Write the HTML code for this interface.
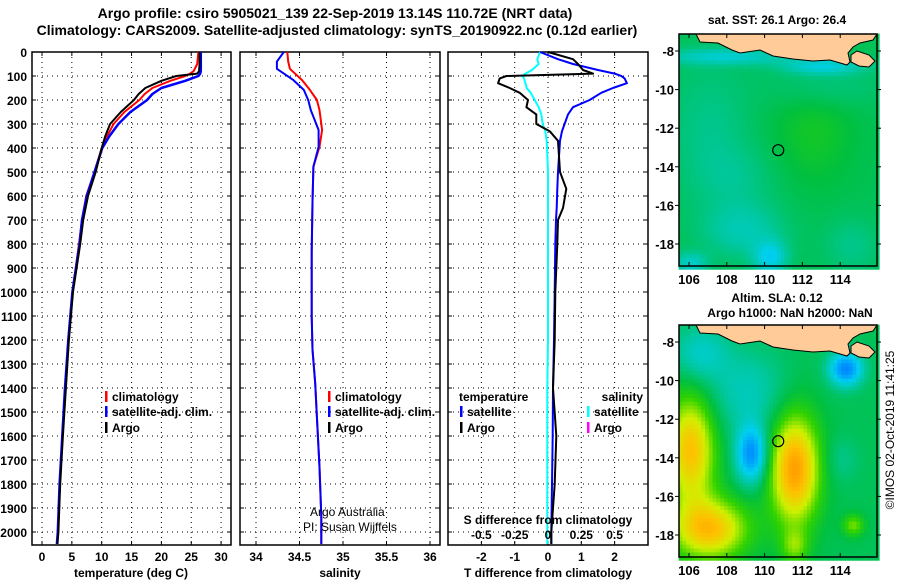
<!DOCTYPE html>
<html><head><meta charset="utf-8"><style>
body{margin:0;background:#fff}
svg{display:block;font-family:"Liberation Sans",sans-serif;font-weight:bold}
</style></head><body>
<svg id="c" width="900" height="580" viewBox="0 0 900 580">
<text x="335" y="18" font-size="14" text-anchor="middle">Argo profile: csiro 5905021_139 22-Sep-2019 13.14S 110.72E (NRT data)</text>
<text x="337" y="35" font-size="14" text-anchor="middle">Climatology: CARS2009. Satellite-adjusted climatology: synTS_20190922.nc (0.12d earlier)</text>
<g id="g"></g>
</svg>
<script>
// ---- data ----
const depthT=[0,50,80,90,100,120,150,175,200,250,300,350,400,500,600,700,800,1000,1200,1400,1600,1800,2000,2050];
const tempClim=[26.2,26.0,25.4,24.8,24.0,21.5,18.5,17.2,16.3,13.8,12.0,10.9,10.0,8.8,7.4,6.7,6.2,5.1,4.4,3.9,3.4,3.0,2.7,2.55];
const tempSat=[26.6,26.6,26.6,26.5,26.2,24.0,20.0,18.5,17.6,14.8,12.8,11.3,10.1,8.8,7.5,6.7,6.3,5.1,4.4,3.85,3.4,2.95,2.65,2.5];
const tempArgo=[26.4,26.4,26.3,26.0,22.5,20.0,17.3,16.2,15.4,13.2,11.4,10.6,10.0,9.0,7.7,6.9,6.4,5.2,4.5,4.0,3.5,3.05,2.75,2.6];
const depthS=[0,40,70,117,158,200,242,325,395,478,625,833,1100,1240,1380,1520,1730,1936,2050];
const salClim=[34.36,34.37,34.39,34.53,34.62,34.7,34.73,34.76,34.73,34.66,34.65,34.64,34.64,34.65,34.68,34.7,34.73,34.75,34.75];
const salSat=[34.32,34.24,34.24,34.43,34.55,34.6,34.63,34.72,34.72,34.66,34.65,34.64,34.64,34.65,34.68,34.7,34.73,34.75,34.75];
const diffDepth=[0,30,50,75,90,100,110,130,150,170,200,230,260,300,330,370,500,570,650,700,800,1000,1200,1400,1600,1800,2000,2050];
const dTsat=[-0.24,0.3,0.75,1.5,2.0,2.2,2.3,2.37,1.95,1.6,1.25,0.75,0.6,0.5,0.42,0.36,0.3,0.28,0.26,0.24,0.22,0.2,0.18,0.15,0.14,0.12,0.1,0.1];
const dTargo=[0,0.75,0.9,1.05,1.35,-1.25,-1.45,-1.5,-1.15,-0.85,-0.6,-0.65,-0.35,-0.35,0.05,0.3,0.36,0.55,0.45,0.3,0.28,0.22,0.2,0.15,0.25,0.2,0.1,0.1];
const dSsat=[-0.06,-0.08,-0.07,-0.12,-0.17,-0.19,-0.18,-0.17,-0.16,-0.13,-0.1,-0.07,-0.05,-0.04,-0.02,-0.01,0,0,0,0,0,0,0,-0.005,-0.005,-0.005,-0.005,-0.005];
const depthTicks=[0,100,200,300,400,500,600,700,800,900,1000,1100,1200,1300,1400,1500,1600,1700,1800,1900,2000];
const tTicks=[0,5,10,15,20,25,30];
const sTicks=[34,34.5,35,35.5,36];
const dtTicks=[-2,-1,0,1,2];
const dsTicks=["-0.5","-0.25","0","0.25","0.5"];
const lonTicks=[106,108,110,112,114];
const latTicks=[-8,-10,-12,-14,-16,-18];
const argoPos=[110.72,-13.14];
const sstBlobs=[[108,-8.2,-0.12,2.5,0.3],[113,-8.7,-0.14,1.5,0.3],[108.8,-17.2,-0.09,1.5,1.0],[110.2,-18.6,-0.16,0.6,0.6],[106,-18.9,-0.12,0.6,0.4],[107,-12,-0.05,1.5,2.5],[108.5,-14.5,-0.04,1.5,1.2],[112.5,-12,0.05,1.5,2],[113,-9.8,-0.05,2,0.8],[114.5,-18,-0.05,1,1]];
const slaBlobs=[[111.5,-14.5,0.36,0.9,2],[106,-13.5,0.3,0.9,2],[107,-17.6,0.3,1.4,1.1],[109.2,-13.7,-0.3,0.55,1],[114.2,-9.3,-0.32,0.6,0.6],[109,-10.5,-0.1,1.5,1.5],[106.5,-8.5,-0.12,1,1],[114.6,-17.4,0.14,0.4,0.4],[111.5,-18.5,0.12,0.5,0.6],[114,-14,-0.05,0.6,0.8]];

const NS='http://www.w3.org/2000/svg';const G=document.getElementById('g');
function el(t,a,p){const e=document.createElementNS(NS,t);for(const k in a)e.setAttribute(k,a[k]);(p||G).appendChild(e);return e;}
function txt(x,y,s,anchor,fill,size){const e=el('text',{x:x,y:y,'font-size':size||12,'text-anchor':anchor||'start',fill:fill||'#000'});e.textContent=s;return e;}
const yD=d=>52+d*0.24;
const x1=t=>42+t*5.97, x2=s=>256+(s-34)*87, xT=t=>548+t*33.3, xS=s=>548+s*133.2;
const TOP=52,BOT=545;
function panel(L,R,name,xs,labelLeft){
  const g=el('g',{});
  
  
  depthTicks.forEach(d=>{const y=yD(d);
    if(d>0)el('line',{x1:L,x2:R,y1:y,y2:y,stroke:'#000','stroke-dasharray':'1 4','stroke-width':1},g);
    el('line',{x1:L,x2:L+4,y1:y,y2:y,stroke:'#000'},g);el('line',{x1:R-4,x2:R,y1:y,y2:y,stroke:'#000'},g);
    if(labelLeft){const t=txt(L-5,y+5,String(d),'end');}
  });
  xs.forEach(x=>{el('line',{x1:x,x2:x,y1:TOP,y2:BOT,stroke:'#000','stroke-dasharray':'1 4'},g);el('line',{x1:x,x2:x,y1:BOT-4,y2:BOT,stroke:'#000'},g);el('line',{x1:x,x2:x,y1:TOP,y2:TOP+4,stroke:'#000'},g);});
  el('rect',{x:L,y:TOP,width:R-L,height:BOT-TOP,fill:'none',stroke:'#000','stroke-width':1.5},g);
  return g;
}
function line(xs,ds,fx,color,w,name){const p=xs.map((v,i)=>fx(v).toFixed(1)+','+yD(ds[i]).toFixed(1)).join(' ');
  const e=el('polyline',{points:p,fill:'none',stroke:color,'stroke-width':w,'stroke-linejoin':'round'});
  
  }
function legendMark(x,y,c){el('rect',{x:x,y:y-10,width:2.5,height:11,fill:c});}

// panel 1
panel(32,231,'temperature-panel',tTicks.map(x1),true);
tTicks.forEach(t=>txt(x1(t),561,String(t),'middle'));
line(tempClim,depthT,x1,'#ff0000',2,'temp-climatology-line');
line(tempSat,depthT,x1,'#0000ff',2.5,'temp-satellite-line');
line(tempArgo,depthT,x1,'#000',2,'temp-argo-line');
txt(131,577,'temperature (deg C)','middle');
legendMark(105,401,'#f00');txt(112,401,'climatology');legendMark(105,416,'#00f');txt(112,416,'satellite-adj. clim.');legendMark(105,432,'#000');txt(112,432,'Argo');

// panel 2
panel(240,440,'salinity-panel',sTicks.map(x2),false);
sTicks.forEach(s=>txt(x2(s),561,String(s),'middle'));
line(salClim,depthS,x2,'#ff0000',2,'sal-climatology-line');
line(salSat,depthS,x2,'#0000ff',2,'sal-satellite-line');
txt(340,577,'salinity','middle');
legendMark(328,401,'#f00');txt(335,401,'climatology');legendMark(328,416,'#00f');txt(335,416,'satellite-adj. clim.');legendMark(328,432,'#000');txt(335,432,'Argo');
const t1=txt(310,516,'Argo Australia','start','#000',12);t1.setAttribute('font-weight','normal');
const t2=txt(303,531,'PI: Susan Wijffels','start','#000',12);t2.setAttribute('font-weight','normal');

// panel 3
panel(448,648,'difference-panel',dtTicks.map(xT),false);
dtTicks.forEach(t=>txt(xT(t),561,String(t),'middle'));
line(dSsat,diffDepth,xS,'#00ffff',2,'sal-diff-satellite-line');
line(dTsat,diffDepth,xT,'#0000ff',2,'temp-diff-satellite-line');
line(dTargo,diffDepth,xT,'#000',2,'temp-diff-argo-line');
txt(548,524,'S difference from climatology','middle');
dsTicks.forEach((s,i)=>txt(xS(parseFloat(s)),539,s,'middle'));
txt(548,577,'T difference from climatology','middle');
txt(459,401,'temperature');legendMark(460,416,'#00f');txt(467,416,'satellite');legendMark(460,432,'#000');txt(467,432,'Argo');
txt(643,401,'salinity','end');legendMark(587,416,'#0ff');txt(594,416,'satellite');legendMark(587,432,'#f0f');txt(594,432,'Argo');

// maps
const stops=[[0,[0,48,255]],[0.2,[0,144,255]],[0.33,[0,208,240]],[0.43,[0,200,160]],[0.52,[0,192,64]],[0.6,[48,210,0]],[0.7,[208,240,0]],[0.8,[255,192,0]],[0.92,[255,128,0]]];
function cmap(v){v=Math.max(0,Math.min(0.92,v));for(let i=1;i<stops.length;i++){if(v<=stops[i][0]){const a=stops[i-1],b=stops[i],f=(v-a[0])/(b[0]-a[0]);return 'rgb('+a[1].map((c,k)=>Math.round(c+(b[1][k]-c)*f)).join(',')+')';}}return 'rgb(255,128,0)';}
function map(oy,blobs,base,name,quant){
  const g=el('g',{});
  
  
  const lx=lon=>689+(lon-106)*18.9, ly=lat=>oy+17+(-8-lat)*19.3;
  const step=quant;
  for(let lon=105.45;lon<115.95;lon+=step){for(let lat=-7.1;lat>-19.2;lat-=step){
    let v=base;blobs.forEach(b=>{v+=b[2]*Math.exp(-(((lon-b[0])/b[3])**2+((lat-b[1])/b[4])**2)/2);});
    const x=lx(lon),y=ly(lat);
    el('rect',{x:x.toFixed(1),y:y.toFixed(1),width:(step*18.9+0.6).toFixed(1),height:(step*19.3+0.6).toFixed(1),fill:cmap(v)},g);}}
  const land=[[17,0],[21,8],[39,9],[53,16],[61,19],[81,16],[94,22],[114,25],[134,27],[151,26],[168,31],[171,28],[169,19],[174,13],[181,9],[194,6],[198,0]];
  el('polygon',{points:land.map(p=>(679+p[0])+','+(oy+p[1])).join(' '),fill:'#ffcc99',stroke:'#000','stroke-width':1},g);
  el('polygon',{points:[[172,21],[178,17],[190,21],[196,27],[190,33],[180,32],[172,28]].map(p=>(679+p[0])+','+(oy+p[1])).join(' '),fill:'#ffcc99',stroke:'#000','stroke-width':1},g);
  el('circle',{cx:lx(argoPos[0]),cy:ly(argoPos[1]),r:5.5,fill:'none',stroke:'#000','stroke-width':1.2},g);
  el('rect',{x:679,y:oy,width:198,height:232,fill:'none',stroke:'#000','stroke-width':1.5},g);
  lonTicks.forEach(l=>{el('line',{x1:lx(l),x2:lx(l),y1:oy,y2:oy+4,stroke:'#000'},g);el('line',{x1:lx(l),x2:lx(l),y1:oy+228,y2:oy+232,stroke:'#000'},g);txt(lx(l),oy+250,String(l),'middle','#000',13);});
  latTicks.forEach(l=>{const y=ly(l);el('line',{x1:675,x2:679,y1:y,y2:y,stroke:'#000'},g);el('line',{x1:877,x2:881,y1:y,y2:y,stroke:'#000'},g);txt(674,y+5,String(l),'end','#000',13);});
}
map(34,sstBlobs,0.5,'sst-map',0.2);
map(325,slaBlobs,0.5,'sla-map',0.2);
txt(777,24,'sat. SST: 26.1 Argo: 26.4','middle');
txt(777,302,'Altim. SLA: 0.12','middle');
txt(790,317,'Argo h1000: NaN h2000: NaN','middle');
const cp=txt(0,0,'©IMOS 02-Oct-2019 11:41:25','middle','#000',12);cp.setAttribute('font-weight','normal');cp.setAttribute('transform','translate(894,430) rotate(-90)');
</script>
</body></html>
